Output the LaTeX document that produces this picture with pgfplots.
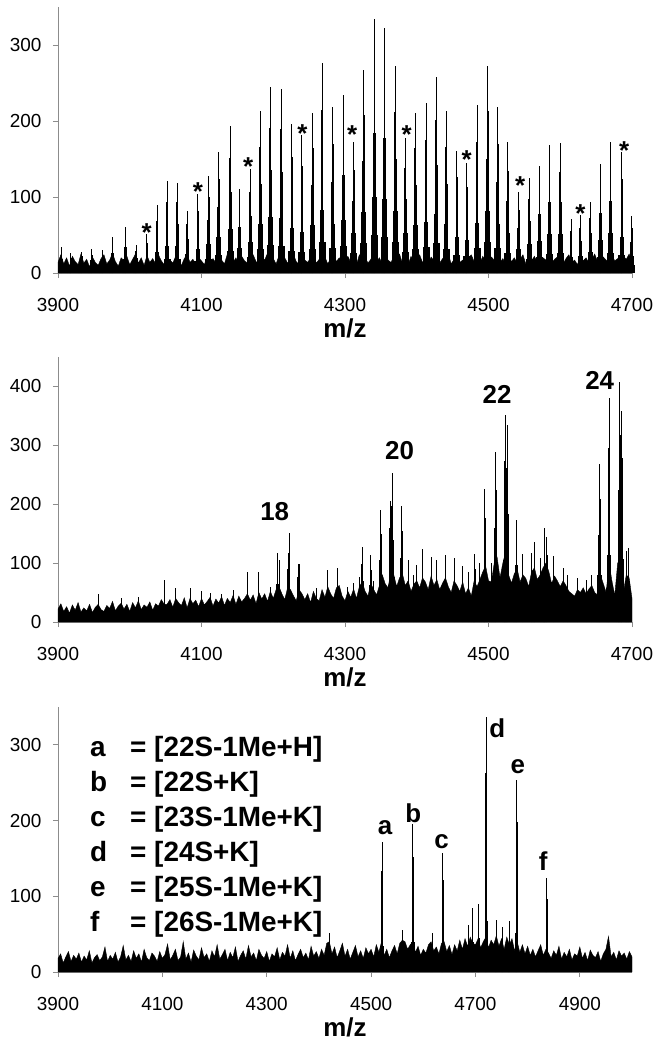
\documentclass[border=0pt]{standalone}
\usepackage{fontspec}
\setmainfont{Liberation Sans}
\usepackage{pgfplots}
\usepackage{pgfplotstable}
\pgfplotsset{compat=1.18}
\definecolor{axgrey}{HTML}{8C8C8C}

% peak tables: P = m/z, h = apex; t, m, b, q = body levels of the peak
\pgfplotstableread{
P h t m b q
3905 34 27 19 10 5
3918 26 20 14 8 4
3933 28 22 15 8 4
3947 31 24 17 9 5
3962 30 23 17 9 5
3976 48 37 26 14 7
3994 61 48 34 18 9
4009 37 29 20 11 6
4024 51 40 28 15 8
4038 89 69 49 27 13
4052 121 94 67 36 18
4066 119 93 65 36 18
4080 82 64 45 25 12
4095 104 81 57 31 16
4110 128 100 70 38 19
4124 159 124 87 48 24
4140 194 151 107 58 29
4153 110 86 61 33 17
4168 137 107 75 41 21
4182 213 166 117 64 32
4196 245 191 135 74 37
4211 242 189 133 73 36
4226 196 153 108 59 29
4240 181 141 100 54 27
4255 211 165 116 63 32
4268 276 215 152 83 41
4283 218 170 120 65 33
4298 234 183 129 70 35
4312 173 135 95 52 26
4326 267 208 147 80 40
4341 334 261 184 100 50
4355 323 252 178 97 48
4370 272 212 150 82 41
4384 177 138 97 53 27
4398 210 164 116 63 32
4413 224 175 123 67 34
4427 258 201 142 77 39
4441 213 166 117 64 32
4456 161 126 89 48 24
4470 145 113 80 44 22
4484 221 172 122 66 33
4499 273 213 150 82 41
4513 218 170 120 65 33
4527 172 134 95 52 26
4542 107 83 59 32 16
4557 125 98 69 38 19
4571 141 110 78 42 21
4585 169 132 93 51 25
4600 171 133 94 51 26
4615 71 55 39 21 11
4628 76 59 42 23 11
4642 94 73 52 28 14
4656 143 112 79 43 21
4670 173 135 95 52 26
4686 159 124 87 48 24
4699.5 75 59 41 23 11
}\pkA

\pgfplotstableread{
P h t m b q
4206 118 92 65 35 18
4222 151 118 83 45 23
4235 98 76 54 29 15
4324 127 99 70 38 19
4336 114 89 63 34 17
4350 191 149 105 57 29
4363 205 160 113 62 31
4366 253 197 139 76 38
4379 197 154 108 59 30
4481 115 90 63 35 17
4495 226 176 124 68 34
4510 289 225 159 87 43
4523 351 274 193 105 53
4526 335 261 184 100 50
4539 174 136 96 52 26
4564 136 106 75 41 20
4578 160 125 88 48 24
4581 145 113 80 44 22
4655 268 209 147 80 40
4668 380 296 209 114 57
4683 408 318 224 122 61
4686 358 279 197 107 54
4695 126 98 69 38 19
}\pkB

\pgfplotstableread{
P h m b
4420 51 25 15
4560 55 25 15
4617 51 25 15
4521 172 134 34
4580 195 152 39
4637 157 122 31
4686 62 30 15
4695 85 40 20
4706 90 45 22
4721 337 263 67
4740 69 30 18
4752 60 30 15
4765 68 30 18
4779 254 198 51
4837 124 97 25
}\pkC

\pgfplotsset{
  spec/.style={
    scale only axis, width=574bp,
    axis lines*=left,
    axis line style={axgrey, line width=0.8bp},
    tick style={axgrey, line width=0.8bp},
    tick align=outside, major tick length=5bp,
    ymin=0, xmin=3900,
    clip=false,
    tick label style={font=\fontsize{19}{22}\selectfont, text=black},
    xticklabel style={yshift=-17bp},
    yticklabel style={xshift=-8bp},
    /pgf/number format/assume math mode=true,
    /pgf/number format/1000 sep={},
    xlabel={m/z},
    x label style={font=\fontsize{26}{30}\selectfont\bfseries, at={(axis description cs:0.5,0)}, anchor=center, yshift=-55bp},
    minor tick num=0,
  },
  pk/.style={ycomb, mark=none, black, line width=#1},
}

\begin{document}
\begin{tikzpicture}
\path[use as bounding box] (0,0) rectangle (671bp,-1050bp);

% ---------------- Panel 1 ----------------
\begin{axis}[spec, at={(58bp,-273bp)}, anchor=south west, height=266bp,
  xmax=4700, ymax=350, xtick={3900,4100,4300,4500,4700}, ytick={0,100,200,300}]
\addplot[draw=black, fill=black, line width=0.4bp, mark=none] coordinates {
(3900,14)(3904,24)(3908,12)(3912,20)(3916,9)(3920,22)(3924,15)(3928,11)(3932,25)(3936,13)
(3940,18)(3944,8)(3948,21)(3952,14)(3956,10)(3960,19)(3964,24)(3968,12)(3972,17)(3976,26)
(3980,15)(3984,9)(3988,20)(3992,16)(3996,22)(4000,11)(4004,18)(4008,25)(4012,13)(4016,20)
(4020,10)(4024,23)(4028,14)(4032,19)(4036,12)(4040,24)(4044,16)(4048,11)(4052,21)(4056,17)
(4060,13)(4064,22)(4068,15)(4072,10)(4076,19)(4080,24)(4084,14)(4088,18)(4092,12)(4096,20)
(4100,16)(4104,11)(4108,23)(4112,15)(4116,19)(4120,13)(4124,21)(4128,17)(4132,12)(4136,25)
(4140,18)(4144,14)(4148,20)(4152,11)(4156,22)(4160,16)(4164,13)(4168,19)(4172,24)(4176,15)
(4180,12)(4184,21)(4188,17)(4192,26)(4196,14)(4200,19)(4204,12)(4208,23)(4212,16)(4216,20)
(4220,13)(4224,18)(4228,25)(4232,15)(4236,11)(4240,22)(4244,17)(4248,14)(4252,20)(4256,24)
(4260,13)(4264,18)(4268,16)(4272,21)(4276,12)(4280,19)(4284,25)(4288,15)(4292,20)(4296,13)
(4300,17)(4304,22)(4308,14)(4312,19)(4316,11)(4320,24)(4324,16)(4328,21)(4332,13)(4336,18)
(4340,26)(4344,15)(4348,20)(4352,12)(4356,23)(4360,17)(4364,14)(4368,21)(4372,16)(4376,25)
(4380,13)(4384,18)(4388,11)(4392,22)(4396,15)(4400,19)(4404,24)(4408,14)(4412,17)(4416,12)
(4420,21)(4424,16)(4428,23)(4432,13)(4436,19)(4440,15)(4444,25)(4448,12)(4452,18)(4456,21)
(4460,14)(4464,17)(4468,11)(4472,20)(4476,24)(4480,15)(4484,19)(4488,13)(4492,22)(4496,16)
(4500,12)(4504,21)(4508,17)(4512,25)(4516,14)(4520,19)(4524,11)(4528,23)(4532,15)(4536,20)
(4540,13)(4544,18)(4548,24)(4552,12)(4556,19)(4560,16)(4564,22)(4568,14)(4572,11)(4576,20)
(4580,17)(4584,25)(4588,13)(4592,18)(4596,21)(4600,15)(4604,12)(4608,19)(4612,24)(4616,14)
(4620,17)(4624,11)(4628,22)(4632,16)(4636,20)(4640,13)(4644,18)(4648,25)(4652,15)(4656,12)
(4660,21)(4664,17)(4668,14)(4672,23)(4676,16)(4680,19)(4684,12)(4688,22)(4692,18)(4696,25)
(4700,14)} \closedcycle;
\addplot[pk=7bp] table[x=P,y=q] {\pkA};
\addplot[pk=4.6bp] table[x=P,y=b] {\pkA};
\addplot[pk=2.8bp] table[x=P,y=m] {\pkA};
\addplot[pk=1.8bp] table[x=P,y=t] {\pkA};
\addplot[pk=1.0bp] table[x=P,y=h] {\pkA};
\begin{scope}[every node/.style={font=\fontsize{26}{30}\selectfont\bfseries, anchor=base, inner sep=0pt}]
\node at (axis cs:4023.5,41) {*};
\node at (axis cs:4095,95) {*};
\node at (axis cs:4165,128) {*};
\node at (axis cs:4240.5,172) {*};
\node at (axis cs:4310,170) {*};
\node at (axis cs:4386,171) {*};
\node at (axis cs:4469.5,137) {*};
\node at (axis cs:4544,103) {*};
\node at (axis cs:4628,67) {*};
\node at (axis cs:4689,150) {*};
\end{scope}
\end{axis}

% ---------------- Panel 2 ----------------
\begin{axis}[spec, at={(58bp,-622bp)}, anchor=south west, height=265bp,
  xmax=4700, ymax=450, xtick={3900,4100,4300,4500,4700}, ytick={0,100,200,300,400}]
\addplot[draw=black, fill=black, line width=0.4bp, mark=none] coordinates {
(3900,22)(3904,31)(3908,18)(3912,26)(3916,15)(3920,29)(3924,20)(3928,33)(3932,17)(3936,24)
(3940,19)(3944,30)(3948,16)(3952,25)(3956,30)(3960,21)(3964,18)(3968,28)(3972,23)(3976,35)
(3980,19)(3984,27)(3988,32)(3992,22)(3996,30)(4000,18)(4004,33)(4008,24)(4012,36)(4016,21)
(4020,29)(4024,25)(4028,34)(4032,20)(4036,31)(4040,27)(4044,38)(4048,30)(4052,30)(4056,38)
(4060,25)(4064,40)(4068,33)(4072,28)(4076,41)(4080,24)(4084,40)(4088,31)(4092,37)(4096,26)
(4100,40)(4104,29)(4108,35)(4112,42)(4116,27)(4120,39)(4124,32)(4128,43)(4132,28)(4136,40)
(4140,33)(4144,45)(4148,30)(4152,44)(4156,34)(4160,40)(4164,48)(4168,37)(4172,46)(4176,31)
(4180,50)(4184,39)(4188,48)(4192,35)(4196,52)(4200,40)(4204,55)(4208,60)(4212,48)(4216,38)
(4220,58)(4224,55)(4228,45)(4232,36)(4236,55)(4240,48)(4244,38)(4248,48)(4252,33)(4256,52)
(4260,40)(4264,36)(4268,55)(4272,42)(4276,60)(4280,48)(4284,40)(4288,58)(4292,62)(4296,44)
(4300,36)(4304,52)(4308,42)(4312,56)(4316,40)(4320,60)(4324,68)(4328,52)(4332,44)(4336,65)
(4340,55)(4344,46)(4348,62)(4352,80)(4356,65)(4360,58)(4364,85)(4368,80)(4372,60)(4376,75)
(4380,82)(4384,62)(4388,70)(4392,52)(4396,64)(4400,70)(4404,58)(4408,75)(4412,68)(4416,55)
(4420,78)(4424,62)(4428,72)(4432,55)(4436,66)(4440,75)(4444,60)(4448,50)(4452,70)(4456,62)
(4460,52)(4464,68)(4468,48)(4472,58)(4476,44)(4480,70)(4484,60)(4488,72)(4492,85)(4496,95)
(4500,70)(4504,68)(4508,100)(4512,110)(4516,75)(4520,100)(4524,120)(4528,80)(4532,66)(4536,82)
(4540,90)(4544,68)(4548,80)(4552,74)(4556,60)(4560,85)(4564,92)(4568,72)(4572,80)(4576,92)
(4580,100)(4584,86)(4588,65)(4592,78)(4596,70)(4600,60)(4604,70)(4608,62)(4612,52)(4616,48)
(4620,44)(4624,55)(4628,50)(4632,58)(4636,48)(4640,56)(4644,62)(4648,50)(4652,46)(4656,80)
(4660,65)(4664,50)(4668,100)(4672,70)(4676,45)(4680,100)(4684,85)(4688,50)(4692,80)(4696,75)
(4700,40)} \closedcycle;
\addplot[pk=0.9bp] coordinates {
(3956,47)(3988,40)(4012,42)(4048,72)(4064,58)(4084,57)(4100,52)(4112,50)(4128,48)(4144,55)
(4164,85)(4180,85)(4196,60)(4208,105)(4220,90)(4236,98)(4260,58)(4276,88)(4290,91)(4304,60)
(4312,66)(4320,76)(4340,70)(4388,105)(4396,80)(4400,96)(4408,124)(4420,110)(4428,105)(4440,114)
(4452,108)(4464,95)(4472,85)(4488,100)(4504,100)(4548,115)(4560,118)(4572,108)(4590,112)(4604,92)
(4610,80)(4624,74)(4636,72)(4644,80)(4692,120)};
\addplot[pk=7bp] table[x=P,y=q] {\pkB};
\addplot[pk=4.6bp] table[x=P,y=b] {\pkB};
\addplot[pk=2.8bp] table[x=P,y=m] {\pkB};
\addplot[pk=1.8bp] table[x=P,y=t] {\pkB};
\addplot[pk=1.0bp] table[x=P,y=h] {\pkB};
\begin{scope}[every node/.style={font=\fontsize{26}{30}\selectfont\bfseries, anchor=center, inner sep=0pt}]
\node at (axis cs:4202,188) {18};
\node at (axis cs:4376,291) {20};
\node at (axis cs:4512,387) {22};
\node at (axis cs:4655,410) {24};
\end{scope}
\end{axis}

% ---------------- Panel 3 ----------------
\begin{axis}[spec, at={(58bp,-972bp)}, anchor=south west, height=265bp,
  xmax=5000, ymax=350, xtick={3900,4100,4300,4500,4700,4900}, ytick={0,100,200,300}]
\addplot[draw=black, fill=black, line width=0.4bp, mark=none] coordinates {
(3900,18)(3905,24)(3910,12)(3915,20)(3920,27)(3925,14)(3930,22)(3935,17)(3940,25)(3945,13)
(3950,21)(3955,16)(3960,28)(3965,12)(3970,19)(3975,23)(3980,15)(3985,20)(3990,33)(3995,14)
(4000,22)(4005,17)(4010,26)(4015,13)(4020,20)(4025,35)(4030,16)(4035,22)(4040,14)(4045,28)
(4050,18)(4055,24)(4060,13)(4065,30)(4070,19)(4075,15)(4080,25)(4085,21)(4090,14)(4095,27)
(4100,18)(4105,23)(4110,37)(4115,16)(4120,22)(4125,30)(4130,15)(4135,20)(4140,40)(4145,17)
(4150,25)(4155,13)(4160,29)(4165,21)(4170,16)(4175,32)(4180,19)(4185,24)(4190,14)(4195,28)
(4200,20)(4205,36)(4210,17)(4215,23)(4220,30)(4225,15)(4230,26)(4235,19)(4240,33)(4245,14)
(4250,22)(4255,28)(4260,17)(4265,35)(4270,20)(4275,25)(4280,15)(4285,30)(4290,22)(4295,18)
(4300,27)(4305,14)(4310,24)(4315,20)(4320,32)(4325,16)(4330,26)(4335,21)(4340,36)(4345,18)
(4350,28)(4355,15)(4360,23)(4365,30)(4370,19)(4375,25)(4380,16)(4385,34)(4390,21)(4395,27)
(4400,18)(4405,30)(4410,22)(4415,38)(4420,40)(4425,24)(4430,33)(4435,19)(4440,28)(4445,38)
(4450,21)(4455,30)(4460,17)(4465,26)(4470,35)(4475,20)(4480,28)(4485,18)(4490,32)(4495,24)
(4500,30)(4505,20)(4510,36)(4515,26)(4520,40)(4525,22)(4530,30)(4535,19)(4540,28)(4545,35)
(4550,24)(4555,38)(4560,42)(4565,40)(4570,30)(4575,36)(4580,40)(4585,26)(4590,34)(4595,22)
(4600,30)(4605,25)(4610,36)(4615,40)(4620,28)(4625,33)(4630,24)(4635,38)(4640,40)(4645,27)
(4650,35)(4655,23)(4660,36)(4665,28)(4670,42)(4675,30)(4680,44)(4685,34)(4690,46)(4695,38)
(4700,36)(4705,44)(4710,32)(4715,40)(4720,46)(4725,32)(4730,42)(4735,36)(4740,48)(4745,34)
(4750,44)(4755,30)(4760,46)(4765,36)(4770,44)(4775,28)(4780,40)(4785,26)(4790,36)(4795,24)
(4800,34)(4805,22)(4810,30)(4815,20)(4820,28)(4825,36)(4830,22)(4835,30)(4840,25)(4845,18)
(4850,28)(4855,22)(4860,34)(4865,17)(4870,26)(4875,20)(4880,30)(4885,16)(4890,24)(4895,21)
(4900,33)(4905,18)(4910,26)(4915,15)(4920,29)(4925,22)(4930,19)(4935,27)(4940,14)(4945,24)
(4950,30)(4955,47)(4960,20)(4965,26)(4970,16)(4975,28)(4980,21)(4985,25)(4990,17)(4995,27)
(5000,20)} \closedcycle;
\addplot[pk=3.6bp] table[x=P,y=b] {\pkC};
\addplot[pk=2.0bp] table[x=P,y=m] {\pkC};
\addplot[pk=1.1bp] table[x=P,y=h] {\pkC};
\begin{scope}[every node/.style={font=\fontsize{26}{30}\selectfont\bfseries, anchor=center, inner sep=0pt}]
\node at (axis cs:4527,190) {a};
\node at (axis cs:4581,210) {b};
\node at (axis cs:4635,172) {c};
\node at (axis cs:4742,322) {d};
\node at (axis cs:4781,271) {e};
\node at (axis cs:4830,146) {f};
\end{scope}
\begin{scope}[every node/.style={font=\fontsize{28}{32}\selectfont\bfseries, anchor=base west, inner sep=0pt}]
\node at (axis cs:3961,284.6) {a};
\node at (axis cs:4038,284.6) {= [22S-1Me+H]};
\node at (axis cs:3961,238.4) {b};
\node at (axis cs:4038,238.4) {= [22S+K]};
\node at (axis cs:3961,192.2) {c};
\node at (axis cs:4038,192.2) {= [23S-1Me+K]};
\node at (axis cs:3961,146) {d};
\node at (axis cs:4038,146) {= [24S+K]};
\node at (axis cs:3961,99.8) {e};
\node at (axis cs:4038,99.8) {= [25S-1Me+K]};
\node at (axis cs:3961,53.6) {f};
\node at (axis cs:4038,53.6) {= [26S-1Me+K]};
\end{scope}
\end{axis}
\end{tikzpicture}
\end{document}
